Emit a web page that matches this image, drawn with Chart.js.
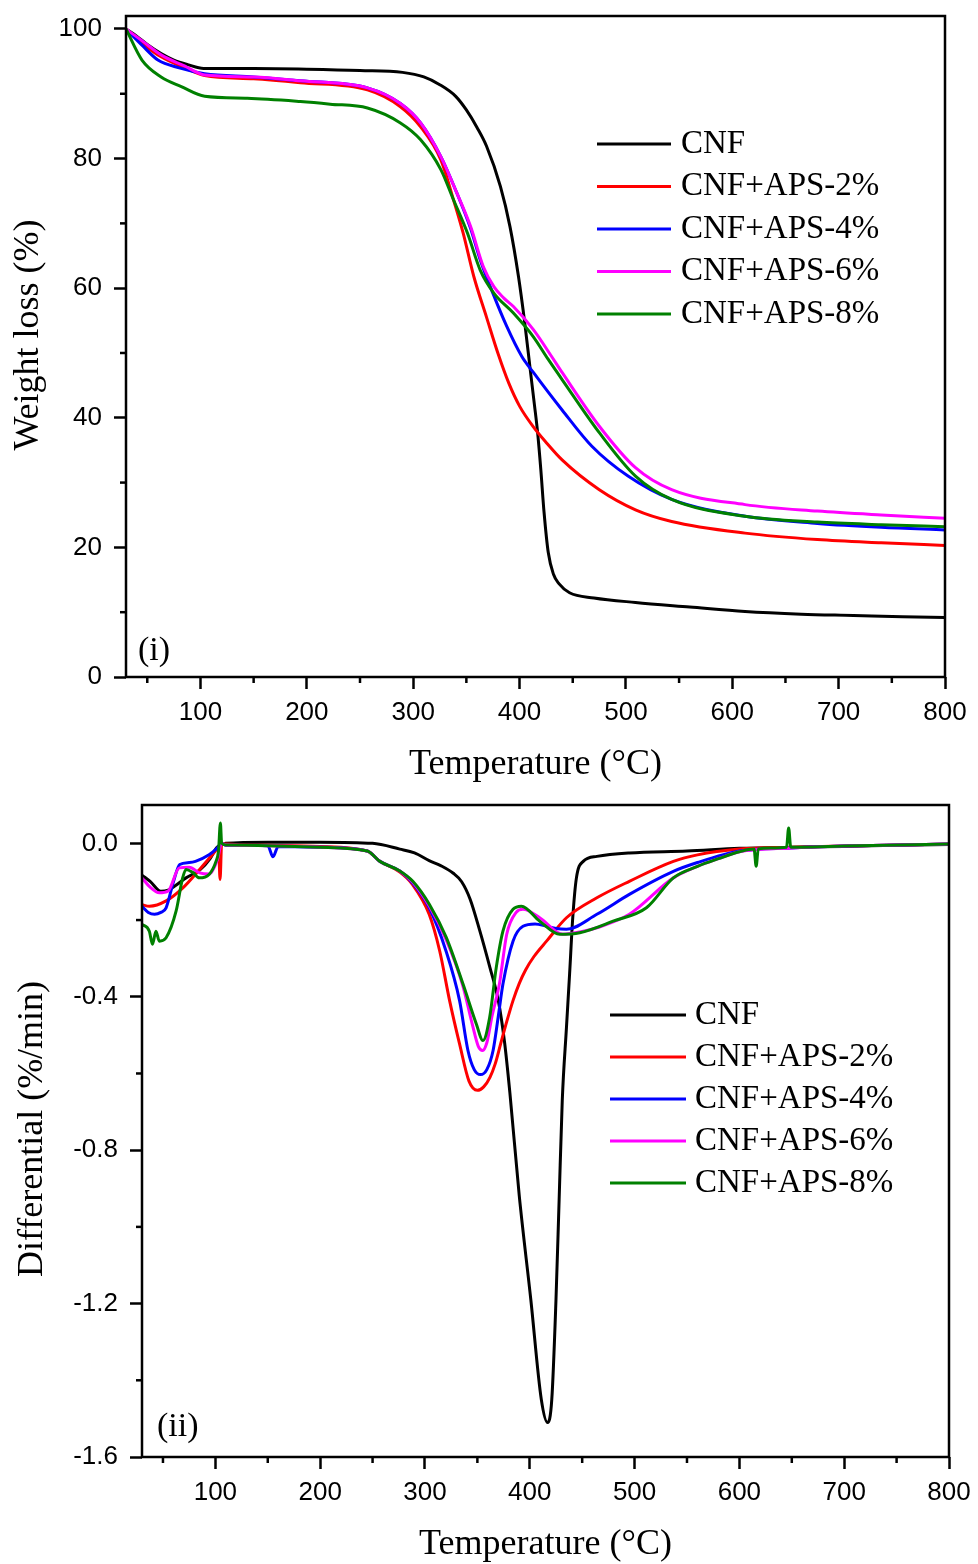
<!DOCTYPE html>
<html>
<head>
<meta charset="utf-8">
<title>TGA / DTG</title>
<script src="https://cdn.jsdelivr.net/npm/chart.js@4.4.1/dist/chart.umd.min.js"></script>
<style>
  body { margin:0; background:#fff; }
  #wrap { position:relative; width:978px; height:1564px; }
  canvas { position:absolute; left:0; }
  #tgaChart { top:0; }
  #dtgChart { top:790px; }
</style>
</head>
<body>
<div id="wrap">
  <canvas id="tgaChart" width="978" height="790"></canvas>
  <canvas id="dtgChart" width="978" height="774"></canvas>
</div>
<script>

const seriesLabels = ['CNF', 'CNF+APS-2%', 'CNF+APS-4%', 'CNF+APS-6%', 'CNF+APS-8%'];

/* TGA - weight loss (%) */

const tgaCnfT = [30, 40, 50, 63, 75, 88, 103, 150, 200, 250, 290, 310, 325, 340, 350, 360, 369, 382, 391, 399, 405, 410, 414, 417, 420, 423, 427, 432, 437, 447, 470, 509, 560, 612, 665, 714, 760, 800];
const tgaCnfW = [100, 98.9, 97.6, 96.2, 95.2, 94.5, 93.9, 93.9, 93.8, 93.6, 93.3, 92.6, 91.4, 89.6, 87.5, 84.8, 81.9, 75.7, 69.5, 61.8, 54.5, 47.5, 42, 37.7, 32, 25.5, 19.2, 15.8, 14.4, 13, 12.2, 11.5, 10.8, 10.1, 9.7, 9.5, 9.3, 9.2];

const tgaAps2T = [30, 45, 63, 85, 104, 150, 194, 257, 288, 307, 326, 338, 347, 357, 369, 380, 390, 400, 413, 425, 440, 475, 509, 543, 612, 680, 740, 800];
const tgaAps2W = [100, 97.8, 95.7, 94, 92.8, 92.3, 91.7, 90.6, 88, 84.9, 79.8, 73.6, 68.5, 61.8, 55.5, 49.8, 45.3, 41.8, 38.6, 36.2, 33.5, 28.9, 25.8, 24, 22.2, 21.2, 20.7, 20.3];

const tgaAps4T = [30, 45, 60, 80, 104, 150, 194, 257, 288, 307, 326, 341, 354, 363, 375, 388, 402, 413, 440, 468, 502, 543, 612, 680, 740, 800];
const tgaAps4W = [100, 97.5, 95.2, 94, 93.1, 92.6, 92, 90.9, 88.5, 85.5, 80.3, 74.7, 69.2, 64.4, 59.2, 54.1, 49.5, 47, 41.2, 35.6, 31, 27.4, 24.8, 23.7, 23.1, 22.7];

const tgaAps6T = [30, 45, 63, 85, 104, 150, 194, 257, 288, 307, 326, 341, 354, 366, 376, 385, 394, 413, 430, 440, 475, 509, 543, 612, 680, 740, 800];
const tgaAps6W = [100, 98.2, 96, 94.3, 92.9, 92.6, 92, 90.9, 88.5, 85.5, 80.3, 74.7, 69.5, 63.3, 60.2, 58.5, 57.2, 53.6, 49.5, 47, 38.7, 32.3, 28.9, 26.6, 25.6, 25, 24.5];

const tgaAps8T = [30, 45, 63, 82, 104, 144, 194, 222, 257, 288, 307, 326, 338, 351, 363, 376, 394, 413, 427, 440, 475, 509, 543, 612, 680, 740, 800];
const tgaAps8W = [100, 95.2, 92.6, 91.1, 89.6, 89.3, 88.8, 88.4, 87.8, 85.5, 82.9, 78.3, 73.6, 68.5, 62.8, 59.2, 56.2, 52.5, 49, 45.9, 37.7, 31, 27.4, 24.8, 23.9, 23.5, 23.2];

/* DTG - differential (%/min) */

const dtgCnfT = [30, 38, 48, 55, 62, 72, 85, 95, 101, 104, 110, 150, 200, 250, 276, 290, 304, 315, 327, 335, 343, 352, 362, 370, 376, 381, 390, 401, 411, 417, 421, 425, 428, 431, 435, 438, 441, 444.5, 451, 464, 495, 550, 600, 650, 700, 750, 800];
const dtgCnfD = [-0.083, -0.1, -0.125, -0.122, -0.11, -0.09, -0.07, -0.04, -0.012, -0.005, 0, 0.003, 0.003, 0, -0.015, -0.025, -0.045, -0.058, -0.078, -0.1, -0.145, -0.225, -0.324, -0.41, -0.52, -0.65, -0.92, -1.19, -1.45, -1.51, -1.45, -1.19, -0.93, -0.67, -0.48, -0.34, -0.194, -0.09, -0.047, -0.034, -0.025, -0.02, -0.013, -0.01, -0.008, -0.005, -0.003];

const dtgAps2T = [30, 37, 53, 69, 85, 100, 103, 104.5, 106, 110, 150, 200, 245, 257, 276, 288, 304, 314, 323.5, 333, 342, 350, 356, 362, 367, 372, 378, 384, 390, 396, 404, 416, 435, 464, 495, 537, 560, 600, 650, 700, 800];
const dtgAps2D = [-0.16, -0.164, -0.15, -0.116, -0.068, -0.02, -0.01, -0.094, 0, -0.002, -0.005, -0.008, -0.02, -0.047, -0.075, -0.107, -0.185, -0.28, -0.41, -0.523, -0.62, -0.644, -0.635, -0.61, -0.575, -0.525, -0.465, -0.41, -0.365, -0.33, -0.295, -0.255, -0.194, -0.142, -0.099, -0.047, -0.03, -0.015, -0.01, -0.007, -0.002];

const dtgAps4T = [30, 36, 42, 48, 53, 60, 66, 75, 81, 94, 102, 106, 110, 150, 155, 160, 200, 245, 257, 276, 288, 304, 320, 333, 341, 347, 353, 359, 365, 370, 374.4, 384, 393.5, 405, 416, 425, 435, 464, 495, 537, 560, 600, 650, 700, 800];
const dtgAps4D = [-0.164, -0.18, -0.185, -0.18, -0.168, -0.1, -0.055, -0.05, -0.047, -0.03, -0.012, 0, -0.005, -0.006, -0.035, -0.008, -0.01, -0.02, -0.047, -0.072, -0.103, -0.168, -0.28, -0.41, -0.54, -0.59, -0.603, -0.59, -0.54, -0.45, -0.367, -0.255, -0.216, -0.21, -0.216, -0.222, -0.224, -0.185, -0.133, -0.073, -0.05, -0.02, -0.012, -0.007, -0.002];

const dtgAps6T = [30, 38, 46.5, 55, 65.6, 75, 85, 94, 102, 106, 110, 150, 200, 245, 257, 276, 288, 304, 320, 336, 345, 351, 355, 359, 364, 371, 378, 387, 393.5, 409.5, 431.5, 450, 464, 495, 537, 560, 580, 600, 650, 700, 800];
const dtgAps6D = [-0.09, -0.115, -0.129, -0.124, -0.064, -0.062, -0.077, -0.08, -0.042, 0, -0.004, -0.006, -0.01, -0.02, -0.047, -0.072, -0.1, -0.163, -0.25, -0.37, -0.47, -0.53, -0.54, -0.52, -0.45, -0.367, -0.237, -0.18, -0.172, -0.194, -0.237, -0.23, -0.22, -0.185, -0.09, -0.06, -0.04, -0.022, -0.012, -0.007, -0.002];

const dtgAps8T = [30, 37, 40, 43.3, 46.5, 53, 62.5, 68.8, 72, 78, 84.7, 94, 100.6, 103, 104.8, 106, 110, 150, 200, 245, 257, 276, 288.4, 304.4, 320.4, 336.3, 349, 355.3, 361.7, 368, 374.4, 384, 392, 409.5, 428.6, 447.7, 479.5, 511.3, 537, 560, 580, 600, 614, 616, 618, 630, 645, 647, 649, 660, 700, 800];
const dtgAps8D = [-0.211, -0.229, -0.263, -0.229, -0.255, -0.246, -0.177, -0.09, -0.068, -0.075, -0.09, -0.081, -0.047, -0.02, 0.053, 0, -0.004, -0.006, -0.01, -0.02, -0.047, -0.072, -0.099, -0.16, -0.246, -0.367, -0.471, -0.514, -0.454, -0.324, -0.229, -0.172, -0.164, -0.203, -0.237, -0.233, -0.203, -0.168, -0.09, -0.06, -0.04, -0.022, -0.015, -0.06, -0.015, -0.012, -0.01, 0.04, -0.01, -0.01, -0.007, -0.002];

/* tick labels */

const tempTicks = [100, 200, 300, 400, 500, 600, 700, 800];
const tgaYTicks = [0, 20, 40, 60, 80, 100];
const dtgYTicks = ['0.0', '-0.4', '-0.8', '-1.2', '-1.6'];

const seriesColors = ['#000000', '#ff0000', '#0000ff', '#ff00ff', '#008000'];

const sansFont = '"Liberation Sans", Arial, sans-serif';
const serifFont = '"Liberation Serif", "Times New Roman", serif';

function pairs(xs, ys){
  return xs.map((x, i) => ({ x: x, y: ys[i] }));
}

function onStep(v, step){
  const r = v / step;
  return Math.abs(r - Math.round(r)) < 1e-6;
}

// tick values every `step` between min and max
function stepTicks(min, max, step){
  const out = [];
  for (let k = Math.ceil(min / step - 1e-9); k * step <= max + 1e-9; k++) {
    out.push({ value: Math.round(k * step * 1e6) / 1e6 });
  }
  return out;
}

function fixSize(s, w, h){
  if (w) s.width = w;
  if (h) s.height = h;
  s.paddingTop = 0;
  s.paddingBottom = 0;
  s.paddingLeft = 0;
  s.paddingRight = 0;
}

function makeDatasets(list){
  return list.map((pts, i) => ({
    label: seriesLabels[i],
    data: pts,
    borderColor: seriesColors[i],
    backgroundColor: seriesColors[i],
    borderWidth: 3,
    pointRadius: 0,
    fill: false,
    cubicInterpolationMode: 'monotone',
    order: list.length - i
  }));
}

/* frame, minor ticks, y title, panel tag and legend */

const framePlugin = {
  id: 'frame',
  afterDatasetsDraw(chart, args, o){
    const { ctx, chartArea: a, scales } = chart;
    ctx.save();
    ctx.strokeStyle = '#000';
    ctx.lineWidth = 2.5;

    scales.x.ticks.forEach(t => {
      if (!onStep(t.value, o.majorX)) {
        const px = scales.x.getPixelForValue(t.value);
        ctx.beginPath();
        ctx.moveTo(px, a.bottom);
        ctx.lineTo(px, a.bottom + 6);
        ctx.stroke();
      }
    });
    scales.y.ticks.forEach(t => {
      if (!onStep(t.value, o.majorY)) {
        const py = scales.y.getPixelForValue(t.value);
        ctx.beginPath();
        ctx.moveTo(a.left, py);
        ctx.lineTo(a.left - 6, py);
        ctx.stroke();
      }
    });

    ctx.strokeRect(a.left, a.top, a.right - a.left, a.bottom - a.top);

    ctx.fillStyle = '#000';

    // y axis title
    ctx.save();
    ctx.translate(o.yTitleX, o.yTitleY);
    ctx.rotate(-Math.PI / 2);
    ctx.font = '36px ' + serifFont;
    ctx.textAlign = 'center';
    ctx.textBaseline = 'middle';
    ctx.fillText(o.yTitle, 0, 0);
    ctx.restore();

    ctx.font = '34px ' + serifFont;
    ctx.textAlign = 'left';
    ctx.textBaseline = 'alphabetic';
    ctx.fillText(o.tag, o.tagX, o.tagY);

    ctx.font = '33px ' + serifFont;
    ctx.textBaseline = 'middle';
    chart.data.datasets.forEach((ds, i) => {
      const y = o.legendY + i * o.legendStep;
      ctx.strokeStyle = ds.borderColor;
      ctx.lineWidth = 3;
      ctx.beginPath();
      ctx.moveTo(o.legendX1, y);
      ctx.lineTo(o.legendX2, y);
      ctx.stroke();
      ctx.fillText(ds.label, o.legendTextX, y);
    });

    ctx.restore();
  }
};

function axisX(height, titlePad){
  return {
    type: 'linear',
    min: 30,
    max: 800,
    afterBuildTicks: s => { s.ticks = stepTicks(30, 800, 50); },
    afterFit: s => fixSize(s, 0, height),
    ticks: {
      autoSkip: false,
      maxRotation: 0,
      padding: 8,
      color: '#000',
      font: { family: sansFont, size: 26 },
      callback: v => tempTicks.includes(v) ? String(v) : ''
    },
    grid: {
      drawOnChartArea: false,
      drawTicks: true,
      tickLength: 12,
      tickWidth: 2.5,
      tickColor: c => (c.tick && onStep(c.tick.value, 100)) ? '#000' : 'rgba(0,0,0,0)'
    },
    border: { display: false },
    title: {
      display: true,
      text: 'Temperature (°C)',
      color: '#000',
      font: { family: serifFont, size: 36, lineHeight: 1 },
      padding: { top: 0, bottom: titlePad }
    }
  };
}

function loadTga(){

  const ctx = document.getElementById('tgaChart');

  new Chart(ctx, {
    type: 'line',
    data: {
      datasets: makeDatasets([
        pairs(tgaCnfT, tgaCnfW),
        pairs(tgaAps2T, tgaAps2W),
        pairs(tgaAps4T, tgaAps4W),
        pairs(tgaAps6T, tgaAps6W),
        pairs(tgaAps8T, tgaAps8W)
      ])
    },
    options: {
      responsive: false,
      animation: false,
      events: [],
      layout: { padding: { top: 16, right: 33, bottom: 0, left: 0 } },
      scales: {
        x: axisX(113, 7),
        y: {
          type: 'linear',
          min: 0,
          max: 102,
          afterBuildTicks: s => { s.ticks = stepTicks(0, 102, 10); },
          afterFit: s => fixSize(s, 126, 0),
          ticks: {
            autoSkip: false,
            padding: 12,
            color: '#000',
            font: { family: sansFont, size: 26 },
            callback: v => tgaYTicks.includes(v) ? String(v) : ''
          },
          grid: {
            drawOnChartArea: false,
            tickLength: 12,
            tickWidth: 2.5,
            tickColor: c => (c.tick && onStep(c.tick.value, 20)) ? '#000' : 'rgba(0,0,0,0)'
          },
          border: { display: false }
        }
      },
      plugins: {
        legend: { display: false },
        tooltip: { enabled: false },
        frame: {
          majorX: 100, majorY: 20,
          yTitle: 'Weight loss (%)', yTitleX: 29, yTitleY: 335,
          tag: '(i)', tagX: 138, tagY: 660,
          legendX1: 597, legendX2: 671, legendTextX: 681,
          legendY: 144, legendStep: 42.5
        }
      }
    },
    plugins: [framePlugin]
  });

}

function loadDtg(){

  const ctx = document.getElementById('dtgChart');

  new Chart(ctx, {
    type: 'line',
    data: {
      datasets: makeDatasets([
        pairs(dtgCnfT, dtgCnfD),
        pairs(dtgAps2T, dtgAps2D),
        pairs(dtgAps4T, dtgAps4D),
        pairs(dtgAps6T, dtgAps6D),
        pairs(dtgAps8T, dtgAps8D)
      ])
    },
    options: {
      responsive: false,
      animation: false,
      events: [],
      layout: { padding: { top: 15, right: 29, bottom: 0, left: 0 } },
      scales: {
        x: axisX(107, 1),
        y: {
          type: 'linear',
          min: -1.6,
          max: 0.1,
          afterBuildTicks: s => { s.ticks = stepTicks(-1.6, 0.1, 0.2); },
          afterFit: s => fixSize(s, 142, 0),
          ticks: {
            autoSkip: false,
            padding: 12,
            color: '#000',
            font: { family: sansFont, size: 26 },
            callback: v => {
              const txt = (Math.abs(v) < 1e-9 ? 0 : v).toFixed(1);
              return dtgYTicks.includes(txt) ? txt : '';
            }
          },
          grid: {
            drawOnChartArea: false,
            tickLength: 12,
            tickWidth: 2.5,
            tickColor: c => (c.tick && onStep(c.tick.value, 0.4)) ? '#000' : 'rgba(0,0,0,0)'
          },
          border: { display: false }
        }
      },
      plugins: {
        legend: { display: false },
        tooltip: { enabled: false },
        frame: {
          majorX: 100, majorY: 0.4,
          yTitle: 'Differential (%/min)', yTitleX: 33, yTitleY: 339,
          tag: '(ii)', tagX: 157, tagY: 646,
          legendX1: 610, legendX2: 686, legendTextX: 695,
          legendY: 225, legendStep: 42
        }
      }
    },
    plugins: [framePlugin]
  });

}

loadTga();
loadDtg();

</script>
</body>
</html>
